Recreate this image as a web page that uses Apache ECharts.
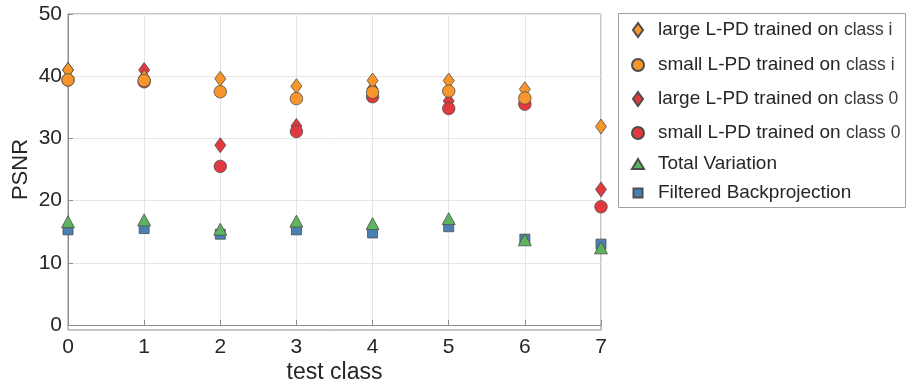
<!DOCTYPE html>
<html><head><meta charset="utf-8">
<script src="https://cdn.jsdelivr.net/npm/echarts@6/dist/echarts.min.js"></script>
<style>html,body{margin:0;padding:0;background:#fff}#c{width:907px;height:389px}</style>
</head><body><div id="c"></div>
<script>
const classes = [0, 1, 2, 3, 4, 5, 6, 7];
const largeI = [41.0, 39.8, 39.6, 38.4, 39.3, 39.3, 37.9, 31.9];
const smallI = [39.4, 39.3, 37.5, 36.4, 37.4, 37.6, 36.5, null];
const large0 = [41.0, 41.0, 28.9, 32.0, 38.0, 36.0, 35.9, 21.8];
const small0 = [39.4, 39.1, 25.5, 31.1, 36.7, 34.8, 35.5, 19.0];
const tv = [16.6, 16.9, 15.4, 16.7, 16.3, 17.1, 13.7, 12.4];
const fbp = [15.3, 15.5, 14.6, 15.3, 14.8, 15.8, 13.8, 13.0];
const seriesNames = [
  'large L-PD trained on {c|class i}',
  'small L-PD trained on {c|class i}',
  'large L-PD trained on {c|class 0}',
  'small L-PD trained on {c|class 0}',
  'Total Variation',
  'Filtered Backprojection'
];

const pts = arr => classes.map((c, i) => [c, arr[i]]).filter(p => p[1] !== null);
const ORANGE = '#F8962C', RED = '#E2393E', GREEN = '#5DB45E', BLUE = '#4B80B4';
const sty = c => ({color: c, borderColor: '#4d4d4d', borderWidth: 0.8, opacity: 1});

// legend layout (one legend component per row)
const rowY = [30, 65, 99, 133, 164, 193];
const iconSz = [[10, 14], [12, 12], [10, 14], [12, 12], [12, 10], [9, 9]];
const iconCX = 637, textX = 657;
const legends = seriesNames.map((n, i) => {
  const w = iconSz[i][0], h = iconSz[i][1];
  return {
    left: iconCX - w / 2, top: rowY[i] - 11, padding: 0,
    itemWidth: w, itemHeight: h, symbolKeepAspect: false,
    selectedMode: false,
    data: [n],
    formatter: name => '{g|}' + name,
    textStyle: {
      fontFamily: 'Liberation Sans', fontSize: 19, lineHeight: 22, color: '#262626',
      rich: {
        g: {width: textX - (iconCX + w / 2) - 5},
        c: {fontFamily: 'Liberation Sans', fontSize: 17.5, color: '#3a3a3a'}
      }
    }
  };
});

const chart = echarts.init(document.getElementById('c'));
chart.setOption({
  animation: false,
  grid: {left: 68, right: 306, top: 14, bottom: 59, show: false},
  xAxis: {
    type: 'value', min: 0, max: 7, interval: 1,
    name: 'test class', nameLocation: 'middle', nameGap: 36, nameMoveOverlap: false,
    nameTextStyle: {fontFamily: 'Liberation Sans', fontSize: 23, color: '#262626'},
    axisLine: {show: true, onZero: false, lineStyle: {color: '#8c8c8c'}},
    axisTick: {show: true, inside: true, length: 5, lineStyle: {color: '#8c8c8c'}},
    axisLabel: {fontFamily: 'Liberation Sans', fontSize: 21, color: '#262626', margin: 12},
    splitLine: {show: true, lineStyle: {color: '#e6e6e6'}}
  },
  yAxis: {
    type: 'value', min: 0, max: 50, interval: 10,
    name: 'PSNR', nameLocation: 'middle', nameGap: 36, nameMoveOverlap: false,
    nameTextStyle: {fontFamily: 'Liberation Sans', fontSize: 22, color: '#262626'},
    axisLine: {show: true, lineStyle: {color: '#8c8c8c'}},
    axisTick: {show: true, inside: true, length: 5, lineStyle: {color: '#8c8c8c'}},
    axisLabel: {fontFamily: 'Liberation Sans', fontSize: 21, color: '#262626', margin: 6},
    splitLine: {show: true, lineStyle: {color: '#e6e6e6'}}
  },
  graphic: [
    {type: 'rect', shape: {x: 68, y: 14, width: 533, height: 316},
     style: {fill: 'none', stroke: '#8c8c8c', lineWidth: 1}, silent: true, z: -1},
    {type: 'rect', shape: {x: 618.5, y: 13.5, width: 287, height: 194},
     style: {fill: 'none', stroke: '#a0a0a0', lineWidth: 1}, silent: true}
  ],
  legend: legends,
  series: [
    {name: seriesNames[2], type: 'scatter', symbol: 'diamond', symbolSize: [11, 15], data: pts(large0), itemStyle: sty(RED), z: 2},
    {name: seriesNames[3], type: 'scatter', symbol: 'circle', symbolSize: 12.5, data: pts(small0), itemStyle: sty(RED), z: 2},
    {name: seriesNames[0], type: 'scatter', symbol: 'diamond', symbolSize: [11, 15], data: pts(largeI), itemStyle: sty(ORANGE), z: 3},
    {name: seriesNames[1], type: 'scatter', symbol: 'circle', symbolSize: 12.5, data: pts(smallI), itemStyle: sty(ORANGE), z: 3},
    {name: seriesNames[5], type: 'scatter', symbol: 'rect', symbolSize: 10, data: pts(fbp), itemStyle: sty(BLUE), z: 4},
    {name: seriesNames[4], type: 'scatter', symbol: 'triangle', symbolSize: [13, 12], data: pts(tv), itemStyle: sty(GREEN), z: 5}
  ]
});
</script></body></html>
